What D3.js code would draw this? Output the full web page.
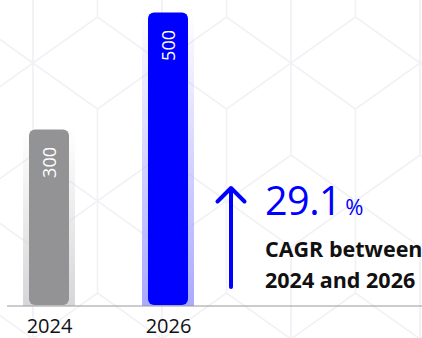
<!DOCTYPE html>
<html>
<head>
<meta charset="utf-8">
<script src="https://cdn.jsdelivr.net/npm/d3@7/dist/d3.min.js"></script>
<style>
  html, body { margin: 0; padding: 0; background: #ffffff; }
  svg { display: block; }
  text { font-family: "Open Sans", "Noto Sans", sans-serif; }
</style>
</head>
<body>
<svg id="chart" width="422" height="338"></svg>
<script>
// Market size by year
const years = ["2024", "2026"];
const values = [300, 500];
const barColors = ["#939396", "#0000ff"];
const glowColors = ["#d6d6d8", "#a9a9ff"];

// Growth callout
const cagrValue = "29.1";
const cagrUnit = "%";
const cagrLines = ["CAGR between", "2024 and 2026"];

const W = 422, H = 338;
const baseY = 306;
const svg = d3.select("#chart");

// ---- decorative lattice background ----
const bg = svg.append("g")
  .attr("fill", "none")
  .attr("stroke", "#f1f1f6")
  .attr("stroke-width", 1.6);
const hx = 64.5, vLen = 92, dLen = 46, rowH = 138;
const lattice = d3.path();
for (let j = -1; j <= 2; j++) {
  for (let i = -1; i <= 4; i++) {
    const x = 33 + 129 * i + (j % 2 !== 0 ? hx : 0);
    const y = 63 + rowH * j;
    lattice.moveTo(x, y); lattice.lineTo(x, y + vLen);
    lattice.moveTo(x - hx, y + rowH); lattice.lineTo(x, y + vLen); lattice.lineTo(x + hx, y + rowH);
    lattice.moveTo(x - hx, y + dLen); lattice.lineTo(x, y); lattice.lineTo(x + hx, y + dLen);
    lattice.lineTo(x + hx, y + rowH);
  }
}
bg.append("path").attr("d", lattice.toString());

// ---- scales ----
const x = d3.scalePoint().domain(years).range([49, 168]);
const y = d3.scaleLinear().domain([0, 500]).range([305, 12.5]);
const barW = 40, glowW = 52;

// soft glow gradients behind bars
const defs = svg.append("defs");
years.forEach((yr, i) => {
  const g = defs.append("linearGradient")
    .attr("id", "glow" + i)
    .attr("x1", 0).attr("y1", 0).attr("x2", 0).attr("y2", 1);
  g.append("stop").attr("offset", "0%").attr("stop-color", glowColors[i]).attr("stop-opacity", 0);
  g.append("stop").attr("offset", "100%").attr("stop-color", glowColors[i]).attr("stop-opacity", 1);
});

svg.append("g").selectAll("rect")
  .data(values)
  .join("rect")
  .attr("x", (d, i) => x(years[i]) - glowW / 2)
  .attr("y", d => y(d))
  .attr("width", glowW)
  .attr("height", d => baseY - y(d))
  .attr("fill", (d, i) => `url(#glow${i})`);

// baseline
svg.append("line")
  .attr("x1", 7).attr("x2", W)
  .attr("y1", baseY).attr("y2", baseY)
  .attr("stroke", "#9a9a9c").attr("stroke-width", 1.2);

// bars
svg.append("g").selectAll("rect")
  .data(values)
  .join("rect")
  .attr("x", (d, i) => x(years[i]) - barW / 2)
  .attr("y", d => y(d))
  .attr("width", barW)
  .attr("height", d => y(0) - y(d))
  .attr("rx", 6).attr("ry", 6)
  .attr("fill", (d, i) => barColors[i]);

// value labels, written upward inside the bars
svg.append("g").selectAll("text")
  .data(values)
  .join("text")
  .attr("transform", (d, i) => `translate(${x(years[i]) + 7},${y(d) + 17.5}) rotate(-90)`)
  .attr("text-anchor", "end")
  .attr("fill", "#ffffff")
  .attr("font-size", 18)
  .text(d => d);

// x axis labels
const axis = svg.append("g")
  .attr("transform", `translate(0,${baseY})`)
  .call(d3.axisBottom(x).tickSize(0));
axis.select(".domain").remove();
axis.selectAll("text")
  .attr("y", 27).attr("dy", null)
  .attr("fill", "#111111")
  .attr("font-size", 20)
  .attr("font-family", "\"Open Sans\", sans-serif");

// ---- growth callout ----
const arrow = d3.path();
arrow.moveTo(231, 287); arrow.lineTo(231, 188);
arrow.moveTo(217.5, 201.5); arrow.lineTo(231, 188); arrow.lineTo(244.5, 201.5);
svg.append("path")
  .attr("d", arrow.toString())
  .attr("fill", "none")
  .attr("stroke", "#0000ff")
  .attr("stroke-width", 4)
  .attr("stroke-linecap", "round")
  .attr("stroke-linejoin", "round");

const big = svg.append("text")
  .attr("x", 265).attr("y", 215)
  .attr("fill", "#0000ff")
  .attr("font-size", 39.5)
  .attr("letter-spacing", -0.5);
big.append("tspan").text(cagrValue);
big.append("tspan").attr("dx", 4).attr("font-size", 22).text(cagrUnit);

svg.append("g").selectAll("text")
  .data(cagrLines)
  .join("text")
  .attr("x", 265)
  .attr("y", (d, i) => 257 + i * 31)
  .attr("fill", "#111111")
  .attr("font-size", 21.5)
  .attr("font-weight", 700)
  .text(d => d);
</script>
</body>
</html>
